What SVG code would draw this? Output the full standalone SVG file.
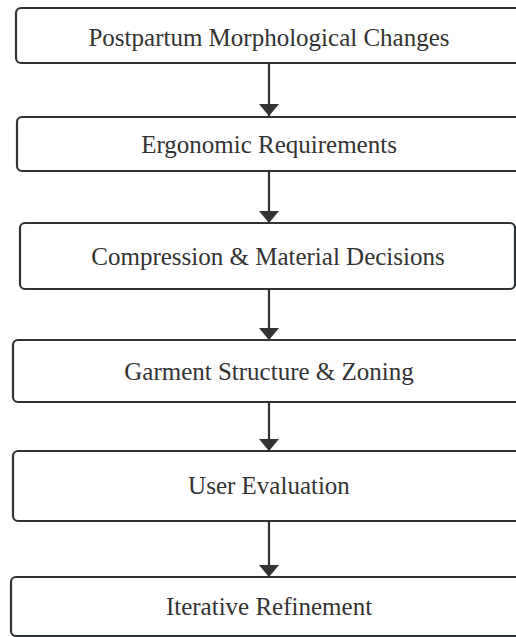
<svg xmlns="http://www.w3.org/2000/svg" width="516" height="637" viewBox="0 0 516 637">
<defs>
<style>
.box{fill:#ffffff;stroke:#2f3338;stroke-width:2.2}
.lbl{font-family:"Liberation Serif","Times New Roman",serif;font-size:25px;fill:#333333;text-anchor:middle}
.edge{stroke:#333333;stroke-width:2.2;fill:none}
</style>
<marker id="ah" viewBox="0 0 12 20" refX="12" refY="10" markerWidth="12" markerHeight="20" markerUnits="userSpaceOnUse" orient="auto">
<path d="M0,0 L12,10 L0,20 z" fill="#333333"/>
</marker>
</defs>
<rect width="516" height="637" fill="#ffffff"/>
<g id="connectors">
<line class="edge" x1="269" y1="63" x2="269" y2="116" marker-end="url(#ah)"/>
<line class="edge" x1="269" y1="171" x2="269" y2="223" marker-end="url(#ah)"/>
<line class="edge" x1="269" y1="289" x2="269" y2="340" marker-end="url(#ah)"/>
<line class="edge" x1="269" y1="402" x2="269" y2="451" marker-end="url(#ah)"/>
<line class="edge" x1="269" y1="521" x2="269" y2="577" marker-end="url(#ah)"/>
</g>
<g id="n1"><rect class="box" x="16" y="8" width="506" height="55" rx="5"/><text class="lbl" x="269" y="46">Postpartum Morphological Changes</text></g>
<g id="n2"><rect class="box" x="17" y="117" width="505" height="54" rx="5"/><text class="lbl" x="269" y="152.5">Ergonomic Requirements</text></g>
<g id="n3"><rect class="box" x="20" y="223" width="495" height="66" rx="5"/><text class="lbl" x="268" y="264.5">Compression &amp; Material Decisions</text></g>
<g id="n4"><rect class="box" x="13" y="340" width="512" height="62" rx="5"/><text class="lbl" x="269" y="379.5">Garment Structure &amp; Zoning</text></g>
<g id="n5"><rect class="box" x="13" y="451" width="512" height="70" rx="5"/><text class="lbl" x="269" y="494">User Evaluation</text></g>
<g id="n6"><rect class="box" x="11" y="577" width="514" height="59" rx="5"/><text class="lbl" x="269" y="615">Iterative Refinement</text></g>
</svg>
